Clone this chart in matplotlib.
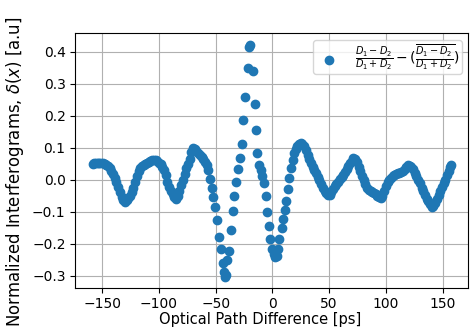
import matplotlib
matplotlib.use("Agg")
import matplotlib.pyplot as plt

# Optical path difference [ps]
opd_ps = [
    -158.5, -157.0, -155.5, -154.0, -152.5, -151.0, -149.5, -148.0, -146.5, -145.0,
    -143.5, -142.0, -140.5, -139.0, -137.5, -136.0, -134.5, -133.0, -131.5, -130.0,
    -128.5, -127.0, -125.5, -124.0, -122.5, -121.0, -119.5, -118.0, -116.5, -115.0,
    -113.5, -112.0, -110.5, -109.0, -107.5, -106.0, -104.5, -103.0, -101.5, -100.0,
    -98.5, -97.0, -95.5, -94.0, -92.5, -91.0, -89.5, -88.0, -86.5, -85.0,
    -83.5, -82.0, -80.5, -79.0, -77.5, -76.0, -74.5, -73.0, -71.5, -70.0,
    -68.5, -67.0, -65.5, -64.0, -62.5, -61.0, -59.5, -58.0, -56.5, -55.0,
    -53.5, -52.0, -50.5, -49.0, -47.4, -45.6, -44.0, -42.9, -42.1, -41.3,
    -39.6, -38.2, -36.5, -35.0, -33.8, -32.4, -30.5, -28.7, -27.1, -25.6,
    -23.8, -21.8, -20.6, -19.7, -17.3, -15.3, -14.4, -13.2, -11.6, -10.2,
    -8.8, -7.4, -5.8, -4.6, -3.4, -2.0, -0.4, 1.2, 2.6, 3.9,
    4.6, 6.2, 8.1, 9.7, 11.0, 12.2, 13.4, 15.0, 16.6, 17.9,
    19.3, 20.6, 22.0, 23.5, 25.0, 26.5, 28.0, 29.5, 31.0, 32.5,
    34.0, 35.5, 37.0, 38.5, 40.0, 41.5, 43.0, 44.5, 46.0, 47.5,
    49.0, 50.5, 52.0, 53.5, 55.0, 56.5, 58.0, 59.5, 61.0, 62.5,
    64.0, 65.5, 67.0, 68.5, 70.0, 71.5, 73.0, 74.5, 76.0, 77.5,
    79.0, 80.5, 82.0, 83.5, 85.0, 86.5, 88.0, 89.5, 91.0, 92.5,
    94.0, 95.5, 97.0, 98.5, 100.0, 101.5, 103.0, 104.5, 106.0, 107.5,
    109.0, 110.5, 112.0, 113.5, 115.0, 116.5, 118.0, 119.5, 121.0, 122.5,
    124.0, 125.5, 127.0, 128.5, 130.0, 131.5, 133.0, 134.5, 136.0, 137.5,
    139.0, 140.5, 142.0, 143.5, 145.0, 146.5, 148.0, 149.5, 151.0, 152.5,
    154.0, 155.5, 156.7, 157.7,
]

# Normalized interferogram delta(x) [a.u]
delta = [
    0.049, 0.052, 0.053, 0.053, 0.053, 0.052, 0.051, 0.049, 0.046, 0.042,
    0.036, 0.028, 0.018, 0.006, -0.008, -0.024, -0.040, -0.055, -0.065, -0.069,
    -0.065, -0.058, -0.050, -0.040, -0.026, -0.008, 0.010, 0.026, 0.036, 0.042,
    0.045, 0.048, 0.051, 0.054, 0.058, 0.061, 0.062, 0.060, 0.057, 0.053,
    0.048, 0.040, 0.030, 0.013, -0.008, -0.024, -0.036, -0.045, -0.055, -0.062,
    -0.052, -0.034, -0.018, -0.001, 0.017, 0.035, 0.050, 0.066, 0.085, 0.099,
    0.096, 0.090, 0.084, 0.078, 0.071, 0.063, 0.056, 0.047, 0.030, 0.003,
    -0.025, -0.053, -0.086, -0.127, -0.178, -0.218, -0.259, -0.288, -0.305, -0.299,
    -0.250, -0.222, -0.157, -0.098, -0.050, -0.006, 0.032, 0.067, 0.111, 0.187,
    0.259, 0.350, 0.415, 0.421, 0.340, 0.237, 0.155, 0.082, 0.045, 0.030,
    0.012, -0.010, -0.050, -0.100, -0.145, -0.184, -0.218, -0.232, -0.243, -0.238,
    -0.218, -0.186, -0.152, -0.124, -0.095, -0.066, -0.030, 0.004, 0.036, 0.062,
    0.082, 0.097, 0.106, 0.112, 0.114, 0.112, 0.105, 0.093, 0.078, 0.064,
    0.052, 0.040, 0.030, 0.020, 0.008, -0.002, -0.014, -0.025, -0.035, -0.043,
    -0.048, -0.048, -0.040, -0.030, -0.021, -0.013, -0.006, 0.001, 0.008, 0.015,
    0.024, 0.033, 0.042, 0.051, 0.059, 0.067, 0.064, 0.054, 0.040, 0.027,
    0.012, -0.002, -0.015, -0.026, -0.032, -0.035, -0.040, -0.042, -0.045, -0.050,
    -0.055, -0.058, -0.050, -0.035, -0.020, -0.007, 0.000, 0.006, 0.011, 0.015,
    0.018, 0.020, 0.022, 0.024, 0.028, 0.033, 0.039, 0.045, 0.044, 0.039,
    0.032, 0.022, 0.011, 0.000, -0.012, -0.025, -0.036, -0.048, -0.059, -0.068,
    -0.077, -0.084, -0.083, -0.074, -0.062, -0.049, -0.036, -0.024, -0.012, 0.000,
    0.014, 0.027, 0.038, 0.046,
]

legend_label = r"$\frac{D_1-D_2}{D_1+D_2}-(\overline{\frac{D_1-D_2}{D_1+D_2}})$"

fig = plt.figure(figsize=(4.70, 3.31), dpi=100)
ax = fig.add_axes([0.1602, 0.1308, 0.8366, 0.7695])
ax.scatter(opd_ps, delta, s=36, color="#1f77b4", label=legend_label, zorder=3)
ax.set_xlim(-173.8, 172.9)
ax.set_ylim(-0.3375, 0.458)
ax.set_xticks([-150, -100, -50, 0, 50, 100, 150])
ax.set_yticks([-0.3, -0.2, -0.1, 0.0, 0.1, 0.2, 0.3, 0.4])
ax.grid(True, zorder=0)
ax.set_axisbelow(True)
ax.tick_params(labelsize=10)
ax.set_xlabel("Optical Path Difference [ps]", fontsize=10.5)
ax.set_ylabel(r"Normalized Interferograms, $\delta(x)$ [a.u]", fontsize=11.9)
ax.xaxis.set_label_coords(0.471, -0.095)
ax.yaxis.set_label_coords(-0.1254, 0.456)
ax.legend(loc="upper right", fontsize=10, borderpad=0.15, handletextpad=0.9)
fig.savefig("out.png", dpi=100)
